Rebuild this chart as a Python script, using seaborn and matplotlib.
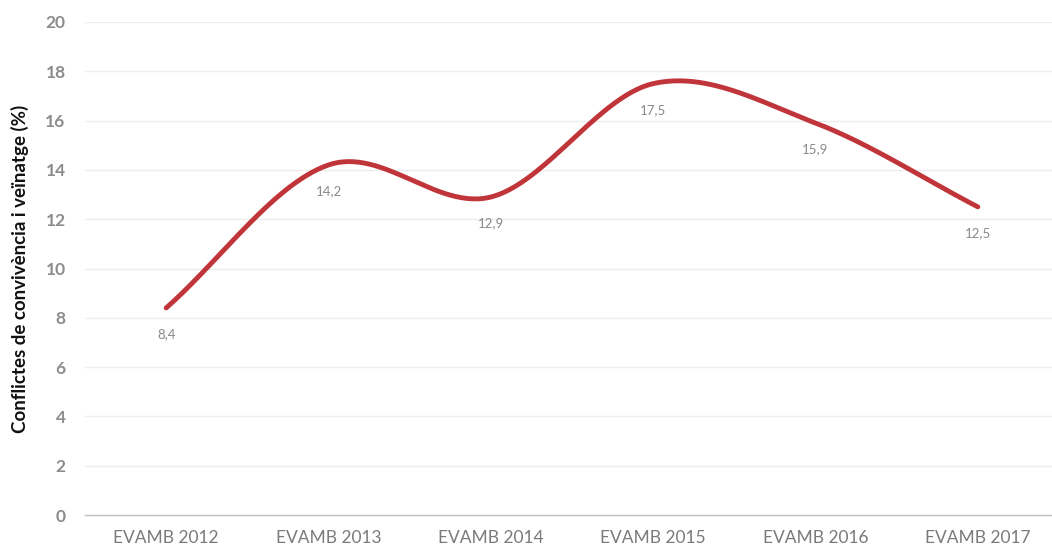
import numpy as np
import pandas as pd
import matplotlib
matplotlib.use("Agg")
import matplotlib.pyplot as plt
import seaborn as sns

categories = ["EVAMB 2012", "EVAMB 2013", "EVAMB 2014", "EVAMB 2015", "EVAMB 2016", "EVAMB 2017"]
values = [8.4, 14.2, 12.9, 17.5, 15.9, 12.5]
value_labels = ["8,4", "14,2", "12,9", "17,5", "15,9", "12,5"]
yticks = [0, 2, 4, 6, 8, 10, 12, 14, 16, 18, 20]

sns.set_theme(style="white")
plt.rcParams['font.family'] = ['Lato', 'DejaVu Sans']

def catmull_rom(x, y, n=60):
    x = np.asarray(x, float); y = np.asarray(y, float)
    px = np.concatenate([[2*x[0]-x[1]], x, [2*x[-1]-x[-2]]])
    py = np.concatenate([[2*y[0]-y[1]], y, [2*y[-1]-y[-2]]])
    xs, ys = [], []
    for i in range(1, len(px)-2):
        t = np.linspace(0, 1, n, endpoint=(i == len(px)-3))
        for arr, out in ((px, xs), (py, ys)):
            p0, p1, p2, p3 = arr[i-1], arr[i], arr[i+1], arr[i+2]
            out.append(0.5*((2*p1) + (-p0+p2)*t + (2*p0-5*p1+4*p2-p3)*t**2 + (-p0+3*p1-3*p2+p3)*t**3))
    return np.concatenate(xs), np.concatenate(ys)

xpos = np.arange(len(categories))
sx, sy = catmull_rom(xpos, values)
curve = pd.DataFrame({"x": sx, "y": sy})

fig = plt.figure(figsize=(10.52, 5.5), dpi=100)
ax = fig.add_axes([85/1052, 35/550, 974/1052, 493/550])

for t in yticks[1:]:
    ax.axhline(t, color="#ececec", lw=1, zorder=0)

sns.lineplot(data=curve, x="x", y="y", ax=ax, color="#C0353A", lw=3.5, sort=False, zorder=3)

for xi, v, lab in zip(xpos, values, value_labels):
    ax.annotate(lab, (xi, v), xytext=(0, -19), textcoords="offset points",
                ha="center", va="center", fontsize=9.5, color="#8a8a8a")

ax.set_xlim(-0.5, len(categories)-0.5)
ax.set_ylim(0, 20)
ax.set_yticks(yticks)
ax.set_yticklabels([str(t) for t in yticks], fontsize=12.5, fontweight="bold", color="#8c8c8c")
ax.set_xticks(xpos)
ax.set_xticklabels(categories, fontsize=12.5, color="#7a7a7a")
ax.set_xticks(np.arange(-0.5, len(categories)), minor=True)
ax.tick_params(axis="x", which="major", length=0, pad=11)
ax.tick_params(axis="x", which="minor", length=8, color="#bfbfbf", width=1)
ax.tick_params(axis="y", length=0, pad=14)
ax.set_xlabel("")
ax.set_ylabel("Conflictes de convivència i veïnatge (%)", fontsize=13.5, fontweight="bold", color="#111111", labelpad=12)

for s in ["top", "right", "left"]:
    ax.spines[s].set_visible(False)
ax.spines["bottom"].set_color("#bfbfbf")
ax.spines["bottom"].set_linewidth(1)

fig.savefig("out.png", dpi=100)
